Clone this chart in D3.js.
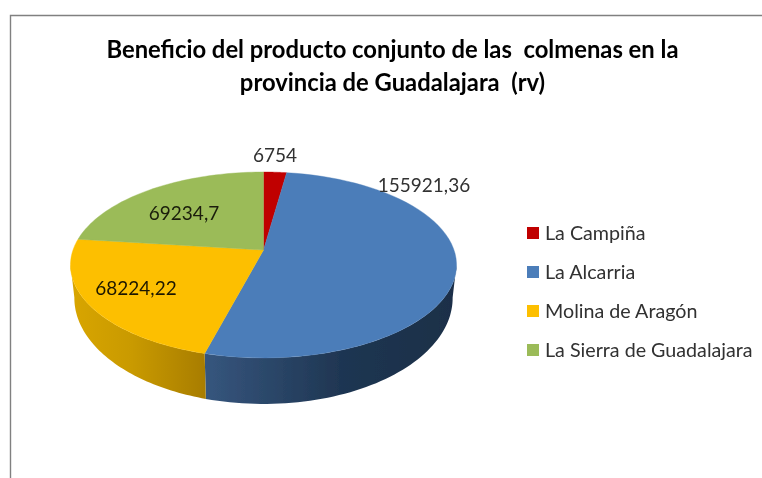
<!DOCTYPE html>
<html><head><meta charset="utf-8">
<script src="https://cdn.jsdelivr.net/npm/d3@7"></script>
<style>html,body{margin:0;padding:0;background:#fff}svg{display:block}</style>
</head><body><svg id="c" width="762" height="478"></svg>
<script>
const categories = ["La Campiña","La Alcarria","Molina de Aragón","La Sierra de Guadalajara"];
const values = [6754,155921.36,68224.22,69234.7];
const valueLabels = ["6754","155921,36","68224,22","69234,7"];
const colors = ["#c00000","#4c7db9","#fdbf00","#9bbb59"];
const titleLines = ["Beneficio del producto conjunto de las  colmenas en la","provincia de Guadalajara  (rv)"];

const svg = d3.select("#c");
const defs = svg.append("defs");
const blur = defs.append("filter").attr("id","soft").attr("x","-5%").attr("y","-5%").attr("width","110%").attr("height","110%");
blur.append("feGaussianBlur").attr("stdDeviation",0.6);
const root = svg.append("g").attr("filter","url(#soft)");
root.append("rect").attr("width",762).attr("height",478).attr("fill","#fff");

// frame
root.append("path").attr("d","M10.5,478V15.5H762").attr("fill","none").attr("stroke","#808080").attr("stroke-width",1.4);

// title
root.append("g").selectAll("text").data(titleLines).join("text")
  .attr("x",392.5).attr("y",(d,i)=>58+i*33).attr("text-anchor","middle")
  .attr("font-family","Lato").attr("font-weight",700).attr("font-size",23.8).attr("fill","#000")
  .style("white-space","pre").text(d=>d);

// perspective projection of a unit disc onto the screen
const cx=263.5, R=190.5, k=-0.161, a=50.3, b=250;
const upper=(t)=>{const x=Math.sin(t),y=-Math.cos(t),w=1+k*y;return [cx+R*x/w,(a*y+b)/w];};
const shrinkX=0.98, stretchY=1.14, ecy=265, lowCy=298;
const lower=(t)=>{const p=upper(t);return [cx+(p[0]-cx)*shrinkX, lowCy+(p[1]-ecy)*stretchY];};
const arcPts=(f,t0,t1)=>d3.range(0,61).map(i=>f(t0+(t1-t0)*i/60));
const line=d3.line();

const pie=d3.pie().sort(null).value(d=>d)(values);

// side walls
const wall=(id,stops,x1,x2)=>{const g=defs.append("linearGradient").attr("id",id).attr("gradientUnits","userSpaceOnUse")
  .attr("x1",x1).attr("x2",x2).attr("y1",0).attr("y2",0);
  stops.forEach(s=>g.append("stop").attr("offset",s[0]).attr("stop-color",s[1]));};
wall("wb",[[0,"#36567e"],[0.55,"#1f3652"],[1,"#1b2f48"]],204,453);
wall("wy",[[0,"#d8a504"],[0.45,"#c99a04"],[1,"#a87d02"]],72,205);
const seg=(t0,t1,fill)=>root.append("path").attr("d",line([...arcPts(upper,t0,t1),...arcPts(lower,t1,t0)])+"Z").attr("fill",fill);
const rad=Math.PI/180;
seg(99*rad,pie[1].endAngle,"url(#wb)");
seg(pie[2].startAngle,261*rad,"url(#wy)");

// top faces
root.append("g").selectAll("path").data(pie).join("path")
  .attr("d",d=>line([[cx,b],...arcPts(upper,d.startAngle,d.endAngle)])+"Z")
  .attr("fill",(d,i)=>colors[i]).attr("stroke",(d,i)=>colors[i]).attr("stroke-width",0.4);

// value labels
const labelPos=[[275,162],[424,192],[136,295],[184,220]];
const labelFill=["#303030","#303030","#1f1900","#1a1f0a"];
root.append("g").selectAll("text").data(valueLabels).join("text")
  .attr("x",(d,i)=>labelPos[i][0]).attr("y",(d,i)=>labelPos[i][1]).attr("text-anchor","middle")
  .attr("font-family","Lato").attr("font-size",19).attr("fill",(d,i)=>labelFill[i]).text(d=>d);

// legend
const leg=root.append("g").selectAll("g").data(categories).join("g")
  .attr("transform",(d,i)=>`translate(527,${233+i*39})`);
leg.append("rect").attr("y",-6).attr("width",12).attr("height",12).attr("fill",(d,i)=>colors[i]);
leg.append("text").attr("x",18).attr("y",7).attr("font-family","Lato").attr("font-size",19.7).attr("fill","#303030").text(d=>d);
</script></body></html>
